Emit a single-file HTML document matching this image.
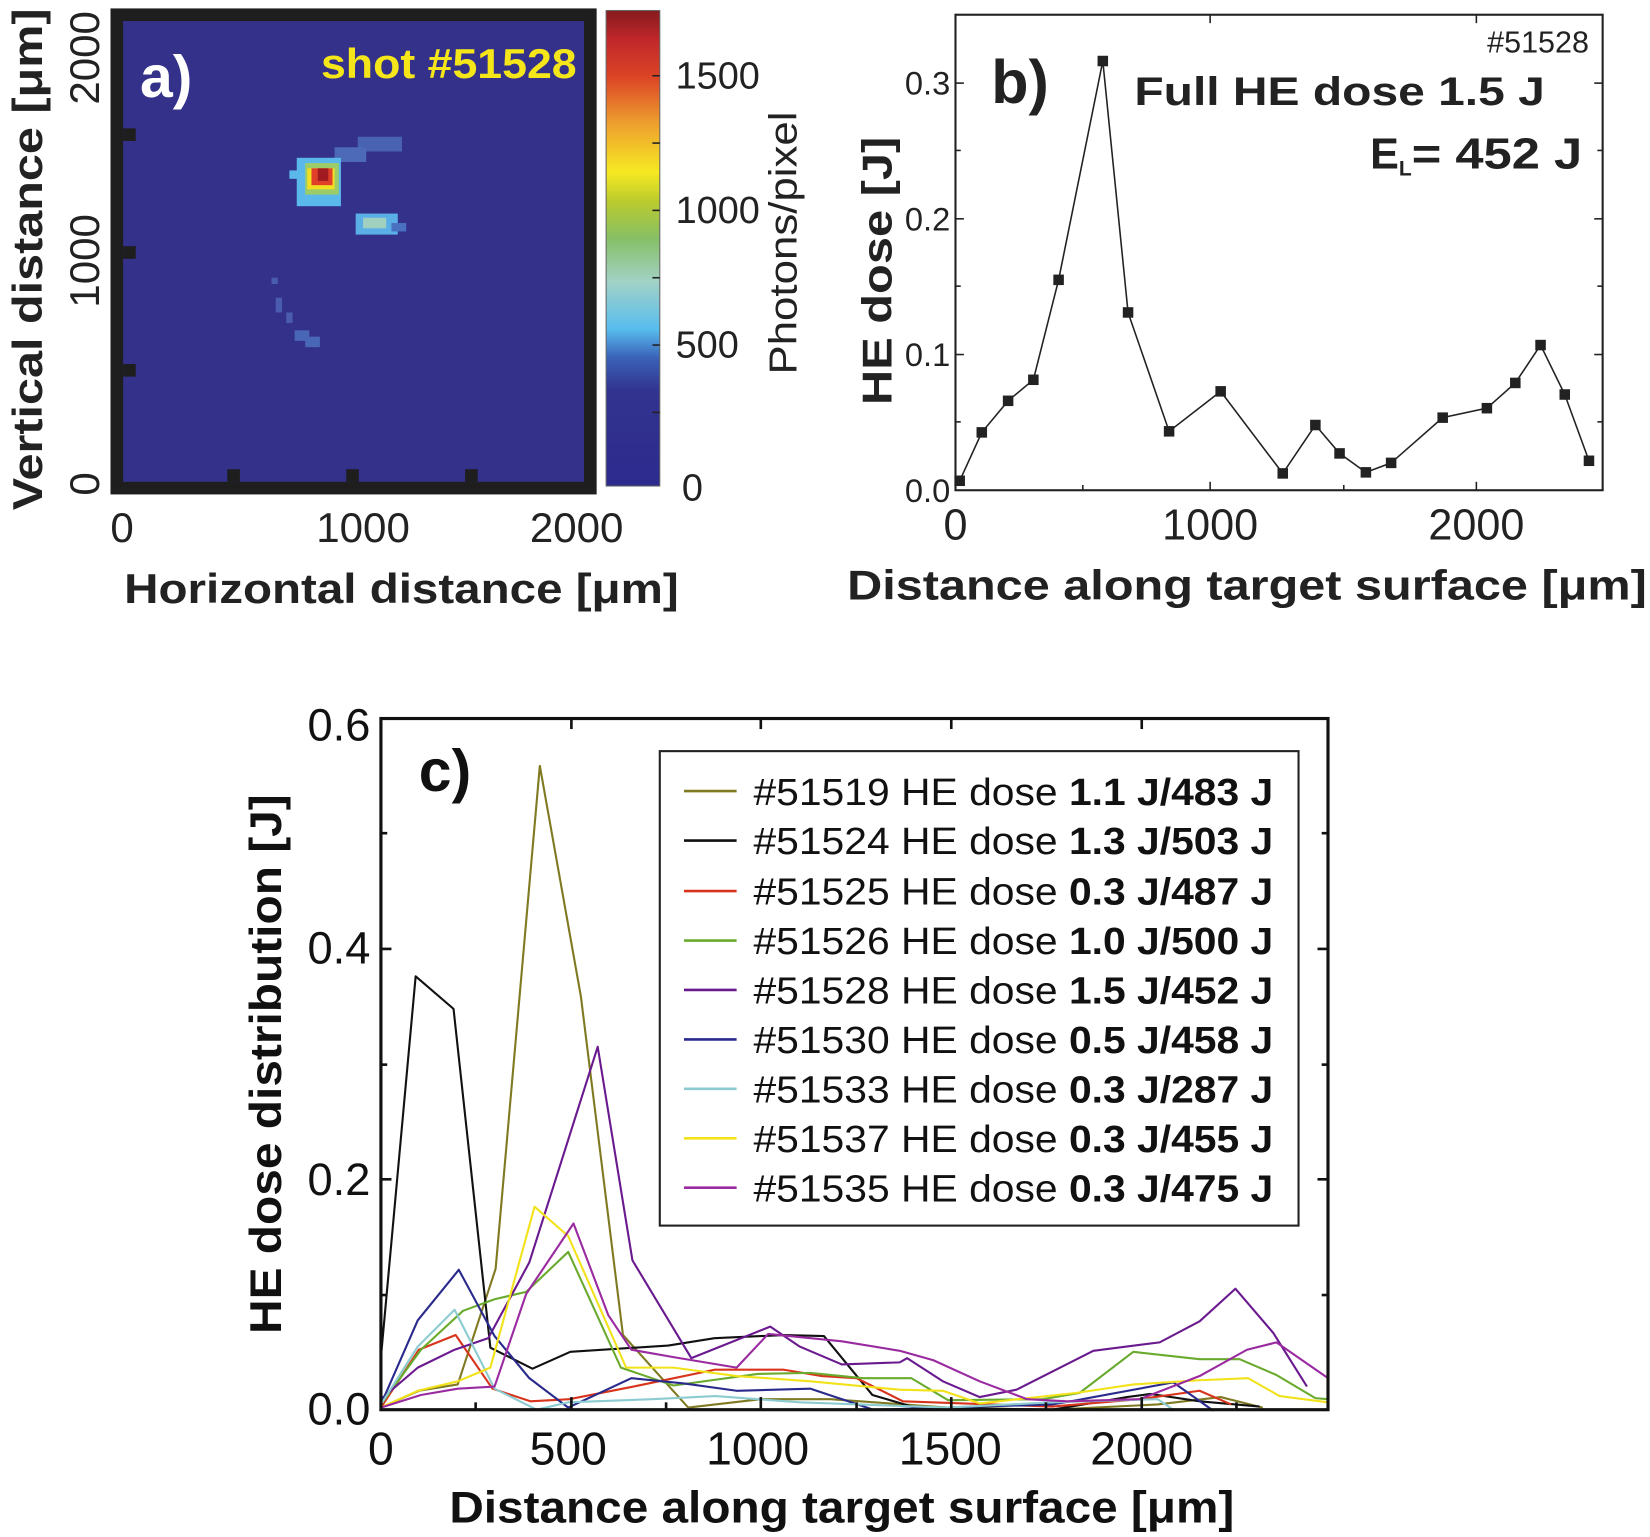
<!DOCTYPE html>
<html><head><meta charset="utf-8"><style>html,body{margin:0;padding:0;background:#fff}svg{display:block}</style></head>
<body>
<svg width="1650" height="1537" viewBox="0 0 1568 1461" preserveAspectRatio="none" xmlns="http://www.w3.org/2000/svg" font-family="Liberation Sans, Arial, sans-serif">
<defs>
<linearGradient id="cb" x1="0" y1="1" x2="0" y2="0">
<stop offset="0" stop-color="#2d2b8e"/><stop offset="0.2" stop-color="#32338f"/><stop offset="0.27" stop-color="#3a62b8"/>
<stop offset="0.33" stop-color="#58bdee"/><stop offset="0.43" stop-color="#a2d2c6"/><stop offset="0.52" stop-color="#86bf66"/>
<stop offset="0.6" stop-color="#bccb2c"/><stop offset="0.66" stop-color="#f6e922"/><stop offset="0.76" stop-color="#eea12e"/>
<stop offset="0.86" stop-color="#dc4426"/><stop offset="0.94" stop-color="#c0272a"/><stop offset="1" stop-color="#861a1e"/>
</linearGradient>
</defs>
<rect width="1568" height="1461" fill="#fff"/>

<!-- Panel a -->
<rect x="105" y="8" width="462" height="462" fill="#1e1e1e"/>
<rect x="117" y="20" width="438" height="438" fill="#34318a"/>
<g fill="#1e1e1e">
<rect x="117" y="122" width="12" height="12"/><rect x="117" y="234" width="12" height="12"/><rect x="117" y="346" width="12" height="12"/>
<rect x="216" y="446" width="12" height="12"/><rect x="329" y="446" width="12" height="12"/><rect x="442" y="446" width="12" height="12"/>
</g>
<g>
<rect x="340" y="130" width="42" height="14" fill="#4a62b2"/>
<rect x="318" y="140" width="30" height="14" fill="#4c6ab8"/>
<rect x="282" y="150" width="42" height="46" fill="#5ab8ea"/>
<rect x="275" y="162" width="12" height="8" fill="#5ab8ea"/>
<rect x="290" y="155" width="32" height="30" fill="#9ccc6a"/>
<rect x="292" y="160" width="26" height="20" fill="#f0e020"/>
<rect x="296" y="160" width="20" height="16" fill="#e0402a"/>
<rect x="302" y="160" width="10" height="12" fill="#a01a20"/>
<rect x="338" y="203" width="40" height="20" fill="#5ab0e6"/>
<rect x="345" y="207" width="22" height="10" fill="#a0d0c0"/>
<rect x="372" y="212" width="14" height="8" fill="#4a70c0"/>
<rect x="258" y="264" width="6" height="6" fill="#4a5cb0"/>
<rect x="262" y="283" width="6" height="14" fill="#4a5cb0"/>
<rect x="272" y="297" width="6" height="10" fill="#4a5cb0"/>
<rect x="280" y="314" width="14" height="10" fill="#4a66b6"/>
<rect x="290" y="320" width="14" height="10" fill="#4a66b6"/>
</g>
<text x="133" y="92" font-size="56" font-weight="bold" fill="#fff">a)</text>
<text x="305" y="74" font-size="40" font-weight="bold" fill="#f5e61a" textLength="243" lengthAdjust="spacingAndGlyphs">shot #51528</text>
<rect x="576" y="10" width="51" height="452" fill="url(#cb)" stroke="#666" stroke-width="1"/>
<g stroke="#222" stroke-width="1.5">
<line x1="620" y1="72" x2="627" y2="72"/><line x1="620" y1="136" x2="627" y2="136"/><line x1="620" y1="200" x2="627" y2="200"/>
<line x1="620" y1="264" x2="627" y2="264"/><line x1="620" y1="328" x2="627" y2="328"/><line x1="620" y1="392" x2="627" y2="392"/>
</g>
<g font-size="36" fill="#222">
<text x="642" y="84">1500</text><text x="642" y="212">1000</text><text x="642" y="340">500</text><text x="648" y="476">0</text>
</g>
<g font-size="40" fill="#222" text-anchor="middle">
<text x="116" y="515">0</text><text x="345" y="515">1000</text><text x="548" y="515">2000</text>
</g>
<text transform="translate(757,356) rotate(-90)" font-size="37" fill="#222" textLength="250" lengthAdjust="spacingAndGlyphs">Photons/pixel</text>
<g font-size="40" fill="#222" text-anchor="middle">
<text transform="translate(94,460) rotate(-90)">0</text>
<text transform="translate(94,248) rotate(-90)">1000</text>
<text transform="translate(94,55) rotate(-90)">2000</text>
</g>
<text transform="translate(40,485) rotate(-90)" font-size="40" font-weight="bold" fill="#222" textLength="477" lengthAdjust="spacingAndGlyphs">Vertical distance [μm]</text>
<text x="118" y="573" font-size="40" font-weight="bold" fill="#222" textLength="527" lengthAdjust="spacingAndGlyphs">Horizontal distance [μm]</text>

<!-- Panel b -->
<rect x="908" y="14" width="615" height="452" fill="none" stroke="#222" stroke-width="2"/>
<g stroke="#222" stroke-width="1.5">
<line x1="908" y1="79" x2="916" y2="79"/><line x1="908" y1="208" x2="916" y2="208"/><line x1="908" y1="337" x2="916" y2="337"/>
<line x1="908" y1="143" x2="913" y2="143"/><line x1="908" y1="272" x2="913" y2="272"/><line x1="908" y1="401" x2="913" y2="401"/>
<line x1="1515" y1="79" x2="1523" y2="79"/><line x1="1515" y1="208" x2="1523" y2="208"/><line x1="1515" y1="337" x2="1523" y2="337"/>
<line x1="1518" y1="143" x2="1523" y2="143"/><line x1="1518" y1="272" x2="1523" y2="272"/><line x1="1518" y1="401" x2="1523" y2="401"/>
<line x1="1150" y1="466" x2="1150" y2="458"/><line x1="1403" y1="466" x2="1403" y2="458"/>
<line x1="1029" y1="466" x2="1029" y2="461"/><line x1="1277" y1="466" x2="1277" y2="461"/>
<line x1="1150" y1="14" x2="1150" y2="22"/><line x1="1403" y1="14" x2="1403" y2="22"/>
</g>
<g font-size="31" fill="#222" text-anchor="end">
<text x="903" y="477">0.0</text><text x="903" y="348">0.1</text><text x="903" y="219">0.2</text><text x="903" y="90">0.3</text>
</g>
<g font-size="41" fill="#222" text-anchor="middle">
<text x="908" y="513">0</text><text x="1150" y="513">1000</text><text x="1403" y="513">2000</text>
</g>
<text transform="translate(847,385) rotate(-90)" font-size="40" font-weight="bold" fill="#222" textLength="255" lengthAdjust="spacingAndGlyphs">HE dose  [J]</text>
<text x="805" y="570" font-size="40" font-weight="bold" fill="#222" textLength="760" lengthAdjust="spacingAndGlyphs">Distance along  target surface [μm]</text>
<text x="942" y="98" font-size="58" font-weight="bold" fill="#222">b)</text>
<text x="1510" y="50" font-size="29" fill="#222" text-anchor="end">#51528</text>
<text x="1078" y="100" font-size="38" font-weight="bold" fill="#222" textLength="390" lengthAdjust="spacingAndGlyphs">Full HE dose 1.5 J</text>
<text x="1302" y="160" font-size="41" font-weight="bold" fill="#222">E<tspan font-size="20" dy="7">L</tspan><tspan dy="-7" textLength="162" lengthAdjust="spacingAndGlyphs">= 452 J</tspan></text>
<polyline fill="none" stroke="#222" stroke-width="1.5" points="912,457 933,411 958,381 982,361 1006,266 1048,58 1072,297 1111,410 1160,372 1219,450 1250,404 1273,431 1298,449 1322,440 1371,397 1413,388 1440,364 1464,328 1487,375 1510,438"/>
<g fill="#222">
<rect x="907" y="452" width="10" height="10"/><rect x="928" y="406" width="10" height="10"/><rect x="953" y="376" width="10" height="10"/><rect x="977" y="356" width="10" height="10"/><rect x="1001" y="261" width="10" height="10"/><rect x="1043" y="53" width="10" height="10"/><rect x="1067" y="292" width="10" height="10"/><rect x="1106" y="405" width="10" height="10"/><rect x="1155" y="367" width="10" height="10"/><rect x="1214" y="445" width="10" height="10"/><rect x="1245" y="399" width="10" height="10"/><rect x="1268" y="426" width="10" height="10"/><rect x="1293" y="444" width="10" height="10"/><rect x="1317" y="435" width="10" height="10"/><rect x="1366" y="392" width="10" height="10"/><rect x="1408" y="383" width="10" height="10"/><rect x="1435" y="359" width="10" height="10"/><rect x="1459" y="323" width="10" height="10"/><rect x="1482" y="370" width="10" height="10"/><rect x="1505" y="433" width="10" height="10"/>
</g>

<!-- Panel c -->
<g fill="none" stroke-width="2" stroke-linejoin="round">
<polyline stroke="#7f7a22" points="362,1338 398,1322 435,1316 471,1206 513,728 552,947 592,1269 654,1338 723,1330 789,1330 900,1338 1000,1340 1100,1335 1160,1328 1200,1338"/>
<polyline stroke="#111" points="362,1290 395,928 431,959 466,1281 506,1301 542,1285 635,1279 679,1272 745,1269 783,1270 829,1326 870,1338 1000,1340 1071,1328 1093,1325 1140,1332 1197,1337"/>
<polyline stroke="#d8341c" points="362,1338 398,1283 433,1269 468,1320 504,1332 541,1330 602,1318 679,1302 745,1302 781,1308 814,1310 858,1332 1000,1337 1083,1330 1140,1322 1170,1335"/>
<polyline stroke="#6aaa2e" points="362,1335 400,1283 440,1246 470,1235 500,1228 540,1190 590,1300 640,1317 720,1306 770,1305 820,1310 855,1310 866,1310 901,1331 991,1330 1026,1324 1077,1285 1140,1292 1178,1292 1213,1307 1250,1329 1262,1330"/>
<polyline stroke="#6a1a8e" points="362,1330 397,1300 432,1283 464,1272 503,1200 568,995 601,1198 657,1291 732,1261 760,1280 800,1297 855,1295 862,1291 896,1313 931,1328 966,1321 1039,1284 1102,1276 1140,1256 1174,1225 1210,1267 1242,1318"/>
<polyline stroke="#2a2a8c" points="362,1335 397,1255 436,1207 470,1270 503,1310 540,1338 600,1310 650,1315 700,1322 770,1320 800,1330 830,1340 1000,1335 1023,1331 1115,1314 1153,1341"/>
<polyline stroke="#8ccbd0" points="362,1335 397,1280 432,1245 470,1320 510,1340 540,1333 620,1330 680,1327 760,1333 900,1338 1000,1333 1100,1330 1115,1340"/>
<polyline stroke="#f2e21a" points="362,1338 397,1322 435,1313 466,1300 508,1147 540,1175 595,1300 640,1300 700,1308 770,1313 855,1321 896,1322 931,1334 1023,1324 1077,1316 1140,1312 1186,1310 1216,1327 1262,1333"/>
<polyline stroke="#9a2aa0" points="362,1338 400,1326 435,1320 470,1318 500,1230 545,1163 578,1250 600,1283 640,1290 700,1300 730,1268 800,1275 855,1284 887,1293 931,1313 976,1330 1014,1332 1083,1330 1140,1308 1185,1283 1213,1276 1262,1310"/>
</g>
<rect x="362" y="683" width="900" height="657" fill="none" stroke="#111" stroke-width="3"/>
<g stroke="#111" stroke-width="2.5">
<line x1="362" y1="1121" x2="372" y2="1121"/><line x1="362" y1="902" x2="372" y2="902"/>
<line x1="362" y1="1231" x2="368" y2="1231"/><line x1="362" y1="1012" x2="368" y2="1012"/><line x1="362" y1="792" x2="368" y2="792"/>
<line x1="1252" y1="1121" x2="1262" y2="1121"/><line x1="1252" y1="902" x2="1262" y2="902"/>
<line x1="1256" y1="1231" x2="1262" y2="1231"/><line x1="1256" y1="1012" x2="1262" y2="1012"/><line x1="1256" y1="792" x2="1262" y2="792"/>
<line x1="543" y1="1340" x2="543" y2="1328"/><line x1="723" y1="1340" x2="723" y2="1328"/><line x1="904" y1="1340" x2="904" y2="1328"/><line x1="1085" y1="1340" x2="1085" y2="1328"/>
<line x1="452" y1="1340" x2="452" y2="1333"/><line x1="633" y1="1340" x2="633" y2="1333"/><line x1="814" y1="1340" x2="814" y2="1333"/><line x1="994" y1="1340" x2="994" y2="1333"/><line x1="1175" y1="1340" x2="1175" y2="1333"/>
<line x1="543" y1="683" x2="543" y2="693"/><line x1="723" y1="683" x2="723" y2="693"/><line x1="904" y1="683" x2="904" y2="693"/><line x1="1085" y1="683" x2="1085" y2="693"/>
</g>
<g font-size="43" fill="#111" text-anchor="end">
<text x="352" y="1354">0.0</text><text x="352" y="1136">0.2</text><text x="352" y="916">0.4</text><text x="352" y="704">0.6</text>
</g>
<g font-size="44" fill="#111" text-anchor="middle">
<text x="362" y="1392">0</text><text x="540" y="1392">500</text><text x="720" y="1392">1000</text><text x="903" y="1392">1500</text><text x="1085" y="1392">2000</text>
</g>
<text transform="translate(267,1268) rotate(-90)" font-size="42" font-weight="bold" fill="#111" textLength="513" lengthAdjust="spacingAndGlyphs">HE dose distribution [J]</text>
<text x="427" y="1447" font-size="42" font-weight="bold" fill="#111" textLength="746" lengthAdjust="spacingAndGlyphs">Distance along target surface [μm]</text>
<text x="398" y="752" font-size="56" font-weight="bold" fill="#111">c)</text>
<rect x="627" y="714" width="607" height="451" fill="#fff" stroke="#222" stroke-width="2"/>
<g stroke-width="2.5">
<line x1="650" y1="752" x2="700" y2="752" stroke="#7f7a22"/>
<line x1="650" y1="799" x2="700" y2="799" stroke="#111"/>
<line x1="650" y1="847" x2="700" y2="847" stroke="#d8341c"/>
<line x1="650" y1="894" x2="700" y2="894" stroke="#6aaa2e"/>
<line x1="650" y1="941" x2="700" y2="941" stroke="#6a1a8e"/>
<line x1="650" y1="988" x2="700" y2="988" stroke="#2a2a8c"/>
<line x1="650" y1="1035" x2="700" y2="1035" stroke="#8ccbd0"/>
<line x1="650" y1="1082" x2="700" y2="1082" stroke="#f2e21a"/>
<line x1="650" y1="1129" x2="700" y2="1129" stroke="#9a2aa0"/>
</g>
<g font-size="36" fill="#111">
<text x="716" y="765" textLength="494" lengthAdjust="spacingAndGlyphs">#51519 HE dose <tspan font-weight="bold">1.1 J/483 J</tspan></text>
<text x="716" y="812" textLength="494" lengthAdjust="spacingAndGlyphs">#51524 HE dose <tspan font-weight="bold">1.3 J/503 J</tspan></text>
<text x="716" y="860" textLength="494" lengthAdjust="spacingAndGlyphs">#51525 HE dose <tspan font-weight="bold">0.3 J/487 J</tspan></text>
<text x="716" y="907" textLength="494" lengthAdjust="spacingAndGlyphs">#51526 HE dose <tspan font-weight="bold">1.0 J/500 J</tspan></text>
<text x="716" y="954" textLength="494" lengthAdjust="spacingAndGlyphs">#51528 HE dose <tspan font-weight="bold">1.5 J/452 J</tspan></text>
<text x="716" y="1001" textLength="494" lengthAdjust="spacingAndGlyphs">#51530 HE dose <tspan font-weight="bold">0.5 J/458 J</tspan></text>
<text x="716" y="1048" textLength="494" lengthAdjust="spacingAndGlyphs">#51533 HE dose <tspan font-weight="bold">0.3 J/287 J</tspan></text>
<text x="716" y="1095" textLength="494" lengthAdjust="spacingAndGlyphs">#51537 HE dose <tspan font-weight="bold">0.3 J/455 J</tspan></text>
<text x="716" y="1142" textLength="494" lengthAdjust="spacingAndGlyphs">#51535 HE dose <tspan font-weight="bold">0.3 J/475 J</tspan></text>
</g>
</svg>
</body></html>
